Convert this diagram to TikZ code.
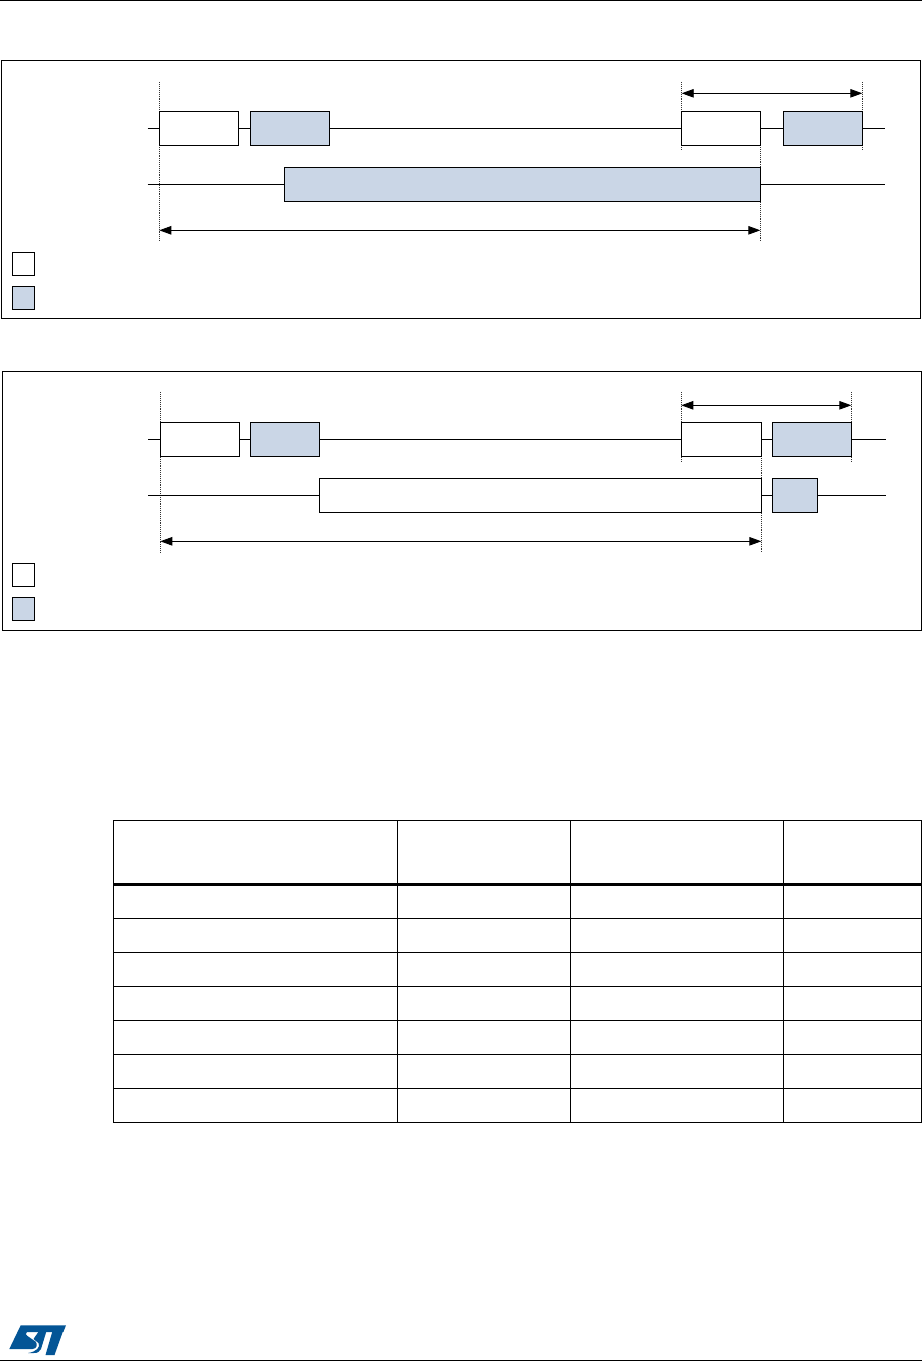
\documentclass[tikz,border=0pt]{standalone}
\usepackage{xcolor}
\usepackage{tikz}
\usetikzlibrary{arrows.meta,positioning}
\definecolor{slotblue}{RGB}{202,214,230}
\definecolor{stblue}{RGB}{3,85,150}

\begin{document}
\begin{tikzpicture}[
    x=1pt, y=-1pt,
    line width=0.9pt,
    wbox/.style={draw, fill=white, inner sep=0pt, outer sep=0pt, minimum height=34pt, anchor=west},
    bbox/.style={wbox, fill=slotblue},
    key/.style={draw, inner sep=0pt, outer sep=0pt, minimum width=22.5pt, minimum height=23pt, anchor=north west},
    panel/.style={draw, inner sep=0pt, outer sep=0pt, anchor=north west, minimum width=919.5pt},
    guide/.style={densely dotted, line width=0.9pt, black!80},
    arr/.style={{Stealth[inset=0pt,length=12pt,width=8.5pt]}-{Stealth[inset=0pt,length=12pt,width=8.5pt]}},
    rulewire/.style={line width=0.9pt}
]
\useasboundingbox (0,0) rectangle (922,1361);
\fill[white] (0,0) rectangle (922,1361);
\draw[rulewire] (0,0.5) -- (922,0.5);
\draw[rulewire] (0,1360) -- (922,1360);

% upper timing chart
\node[panel, minimum height=258pt] (pa) at (1.3,60.3) {};
\coordinate (ga1) at (159.3,82.3);
\coordinate (ga2) at (159.3,241.7);
\coordinate (ga3) at (681.7,82.3);
\coordinate (ga4) at (681.7,150.5);
\coordinate (ga5) at (862.3,82.3);
\coordinate (ga6) at (862.3,150.5);
\coordinate (ga7) at (760.3,145.3);
\coordinate (ga8) at (760.3,241.7);
\draw[guide] (ga1) -- (ga2);
\draw[guide] (ga3) -- (ga4);
\draw[guide] (ga5) -- (ga6);
\draw[guide] (ga7) -- (ga8);
\node[wbox, minimum width=79.4pt] (a1) at (159.3,128.3) {};
\node[bbox, minimum width=79pt, right=11.6pt of a1] (a2) {};
\node[wbox, minimum width=78.6pt] (a3) at (681.7,128.3) {};
\node[bbox, minimum width=79pt, right=23pt of a3] (a4) {};
\node[bbox, minimum width=476pt] (a5) at (284.3,184.3) {};
\coordinate (la1) at (147.7,128.3);
\coordinate (la2) at (885,128.3);
\coordinate (la3) at (147.7,184.3);
\coordinate (la4) at (885,184.3);
\draw (la1) -- (a1);
\draw (a1) -- (a2);
\draw (a2) -- (a3);
\draw (a3) -- (a4);
\draw (a4) -- (la2);
\draw (la3) -- (a5);
\draw (a5) -- (la4);
\coordinate (ta1) at (159.3,230.3);
\coordinate (ta2) at (760.3,230.3);
\coordinate (ta3) at (681.7,93.3);
\coordinate (ta4) at (862.3,93.3);
\draw[arr] (ta1) -- (ta2);
\draw[arr] (ta3) -- (ta4);
\node[key] (ka1) at (12.3,252) {};
\node[key, fill=slotblue] (ka2) at (12.3,286) {};

% lower timing chart
\node[panel, minimum height=259pt] (pb) at (2,371.3) {};
\coordinate (gb1) at (160.3,392.3);
\coordinate (gb2) at (160.3,552);
\coordinate (gb3) at (681.3,392.3);
\coordinate (gb4) at (681.3,461.5);
\coordinate (gb5) at (851.3,392.3);
\coordinate (gb6) at (851.3,461.5);
\coordinate (gb7) at (761.3,456.3);
\coordinate (gb8) at (761.3,552);
\draw[guide] (gb1) -- (gb2);
\draw[guide] (gb3) -- (gb4);
\draw[guide] (gb5) -- (gb6);
\draw[guide] (gb7) -- (gb8);
\node[wbox, minimum width=79pt] (b1) at (160.3,439.3) {};
\node[bbox, minimum width=69pt, right=11pt of b1] (b2) {};
\node[wbox, minimum width=80pt] (b3) at (681.3,439.3) {};
\node[bbox, minimum width=79pt, right=11pt of b3] (b4) {};
\node[wbox, minimum width=442pt] (b5) at (319.3,495.3) {};
\node[bbox, minimum width=45.5pt, right=11pt of b5] (b6) {};
\coordinate (lb1) at (148.3,439.3);
\coordinate (lb2) at (885.7,439.3);
\coordinate (lb3) at (148.3,495.3);
\coordinate (lb4) at (885.7,495.3);
\draw (lb1) -- (b1);
\draw (b1) -- (b2);
\draw (b2) -- (b3);
\draw (b3) -- (b4);
\draw (b4) -- (lb2);
\draw (lb3) -- (b5);
\draw (b5) -- (b6);
\draw (b6) -- (lb4);
\coordinate (tb1) at (160.3,541.3);
\coordinate (tb2) at (761.3,541.3);
\coordinate (tb3) at (681.3,405.3);
\coordinate (tb4) at (851.3,405.3);
\draw[arr] (tb1) -- (tb2);
\draw[arr] (tb3) -- (tb4);
\node[key] (kb1) at (12.3,563) {};
\node[key, fill=slotblue] (kb2) at (12.3,597) {};

% table
\draw (113.3,820.3) rectangle (921,1122);
\foreach \cx in {397,570.3,783.6} \draw (\cx,820.3) -- (\cx,1122);
\foreach \ry in {918,952,986,1020,1054,1088} \draw (113.3,\ry) -- (921,\ry);
\draw[line width=3pt] (113.3,884.3) -- (921,884.3);

% logo
\fill[stblue] (9.3,1349) -- (20.7,1325.3) -- (66,1325.3) -- (63.4,1332) -- (27,1332)
    .. controls (25,1333.5) and (25.5,1335) .. (27.5,1336) -- (35.5,1341.5)
    .. controls (38,1344) and (37,1349) .. (32.5,1349) -- cycle;
\fill[stblue] (39,1331) -- (46.5,1331) -- (41,1349)
    .. controls (39.5,1352) and (37.5,1353) .. (34,1353) -- (28,1353)
    .. controls (36,1352) and (41,1347) .. (38.5,1343) -- (33.5,1339) -- cycle;
\fill[stblue] (52.5,1331) -- (63,1331) -- (54.5,1355) -- (45.5,1355) -- cycle;
\end{tikzpicture}
\end{document}
